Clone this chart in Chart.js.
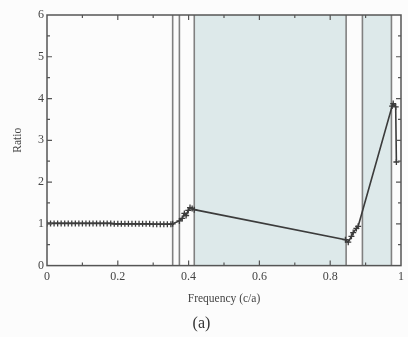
<!DOCTYPE html>
<html>
<head>
<meta charset="utf-8">
<script src="https://cdn.jsdelivr.net/npm/chart.js@4"></script>
<style>
  html, body { margin: 0; padding: 0; background: #fcfcfc; }
  #wrap { width: 408px; height: 337px; }
</style>
</head>
<body>
<div id="wrap"><canvas id="chart"></canvas></div>
<script>
// frequency (c/a) and ratio
var freq = [0, 0.01, 0.02, 0.03, 0.04, 0.05, 0.06, 0.07, 0.08, 0.09,
            0.10, 0.11, 0.12, 0.13, 0.14, 0.15, 0.16, 0.17, 0.18, 0.19,
            0.20, 0.21, 0.22, 0.23, 0.24, 0.25, 0.26, 0.27, 0.28, 0.29,
            0.30, 0.31, 0.32, 0.33, 0.34, 0.35,
            0.355, 0.374, 0.382, 0.388, 0.393, 0.399, 0.404, 0.41, 0.416,
            0.843, 0.851, 0.86, 0.865, 0.874, 0.879,
            0.975, 0.978, 0.985, 0.987];
var ratio = [1.01, 1.01, 1.01, 1.01, 1.01, 1.01, 1.01, 1.01, 1.01, 1.01,
             1.01, 1.01, 1.01, 1.01, 1.01, 1.01, 1.01, 1.01, 1.01, 1.0,
             1.0, 1.0, 1.0, 1.0, 1.0, 1.0, 1.0, 1.0, 1.0, 1.0,
             0.99, 0.99, 0.99, 0.99, 0.99, 0.99,
             1.0, 1.07, 1.13, 1.25, 1.2, 1.32, 1.39, 1.37, 1.34,
             0.62, 0.56, 0.7, 0.79, 0.89, 0.94,
             3.82, 3.88, 3.8, 2.48];

var bandLines = [0.355, 0.374, 0.416, 0.845, 0.891, 0.973];   // vertical band edges
var shadedBands = [[0.416, 0.845], [0.891, 0.973]];             // gap regions

var xMajor = [0, 0.2, 0.4, 0.6, 0.8, 1];
var yMajor = [0, 1, 2, 3, 4, 5, 6];

var serif = "'Liberation Serif', 'DejaVu Serif', serif";
var axisColor = '#555';

// shaded gaps and their edge lines, behind the curve
var bandsPlugin = {
    id: 'bands',
    beforeDatasetsDraw: function(chart) {
        var ctx = chart.ctx, x = chart.scales.x, area = chart.chartArea;
        ctx.save();
        ctx.fillStyle = '#dde9ea';
        shadedBands.forEach(function(b) {
            var x0 = x.getPixelForValue(b[0]), x1 = x.getPixelForValue(b[1]);
            ctx.fillRect(x0, area.top, x1 - x0, area.bottom - area.top);
        });
        ctx.strokeStyle = '#808080';
        ctx.lineWidth = 1.6;
        bandLines.forEach(function(v) {
            var px = x.getPixelForValue(v);
            ctx.beginPath();
            ctx.moveTo(px, area.top);
            ctx.lineTo(px, area.bottom);
            ctx.stroke();
        });
        ctx.restore();
    }
};

// box frame with inward ticks on all four sides
var framePlugin = {
    id: 'frame',
    afterDraw: function(chart) {
        var ctx = chart.ctx, x = chart.scales.x, y = chart.scales.y, a = chart.chartArea;
        ctx.save();
        ctx.strokeStyle = axisColor;
        ctx.lineWidth = 1.5;
        ctx.strokeRect(a.left, a.top, a.right - a.left, a.bottom - a.top);
        ctx.lineWidth = 1.2;
        for (var i = 1; i < 10; i++) {
            var px = x.getPixelForValue(i / 10);
            var len = (i % 2 === 0) ? 5 : 3;
            ctx.beginPath();
            ctx.moveTo(px, a.bottom); ctx.lineTo(px, a.bottom - len);
            ctx.moveTo(px, a.top); ctx.lineTo(px, a.top + len);
            ctx.stroke();
        }
        for (var j = 1; j < 12; j++) {
            var py = y.getPixelForValue(j / 2);
            var l2 = (j % 2 === 0) ? 5 : 3;
            ctx.beginPath();
            ctx.moveTo(a.left, py); ctx.lineTo(a.left + l2, py);
            ctx.moveTo(a.right, py); ctx.lineTo(a.right - l2, py);
            ctx.stroke();
        }
        ctx.restore();
    }
};

var points = freq.map(function(f, i) { return { x: f, y: ratio[i] }; });

new Chart(document.getElementById('chart'), {
    type: 'line',
    data: {
        datasets: [{
            data: points,
            borderColor: '#3c3c3c',
            borderWidth: 1.6,
            pointStyle: 'cross',
            pointRadius: 3,
            pointBorderColor: '#3c3c3c',
            pointBorderWidth: 1.3,
            tension: 0,
            fill: false
        }]
    },
    options: {
        responsive: true,
        maintainAspectRatio: false,
        animation: false,
        layout: { padding: { top: 15, right: 5, left: 0, bottom: 4 } },
        plugins: {
            legend: { display: false },
            tooltip: { enabled: false },
            title: {
                display: true,
                position: 'bottom',
                text: '(a)',
                color: '#333',
                font: { family: serif, size: 16, weight: 'normal' },
                padding: { top: 8, bottom: 0 }
            }
        },
        scales: {
            x: {
                type: 'linear',
                min: 0, max: 1,
                afterBuildTicks: function(s) { s.ticks = xMajor.map(function(v) { return { value: v }; }); },
                ticks: {
                    color: '#444',
                    font: { family: serif, size: 12 },
                    padding: 4,
                    maxRotation: 0,
                    callback: function(v) { return v === 0 || v === 1 ? String(v) : v.toFixed(1); }
                },
                grid: { display: false, drawTicks: false },
                border: { display: false },
                title: {
                    display: true,
                    text: 'Frequency (c/a)',
                    color: '#444',
                    font: { family: serif, size: 11.5 },
                    padding: { top: 4, bottom: 0 }
                }
            },
            y: {
                min: 0, max: 6,
                afterBuildTicks: function(s) { s.ticks = yMajor.map(function(v) { return { value: v }; }); },
                afterFit: function(s) { s.width = 47; },
                ticks: {
                    color: '#444',
                    font: { family: serif, size: 12 },
                    padding: 3
                },
                grid: { display: false, drawTicks: false },
                border: { display: false },
                title: {
                    display: true,
                    text: 'Ratio',
                    color: '#444',
                    font: { family: serif, size: 11.5 },
                    padding: { top: 11, bottom: 0 }
                }
            }
        }
    },
    plugins: [bandsPlugin, framePlugin]
});
</script>
</body>
</html>
